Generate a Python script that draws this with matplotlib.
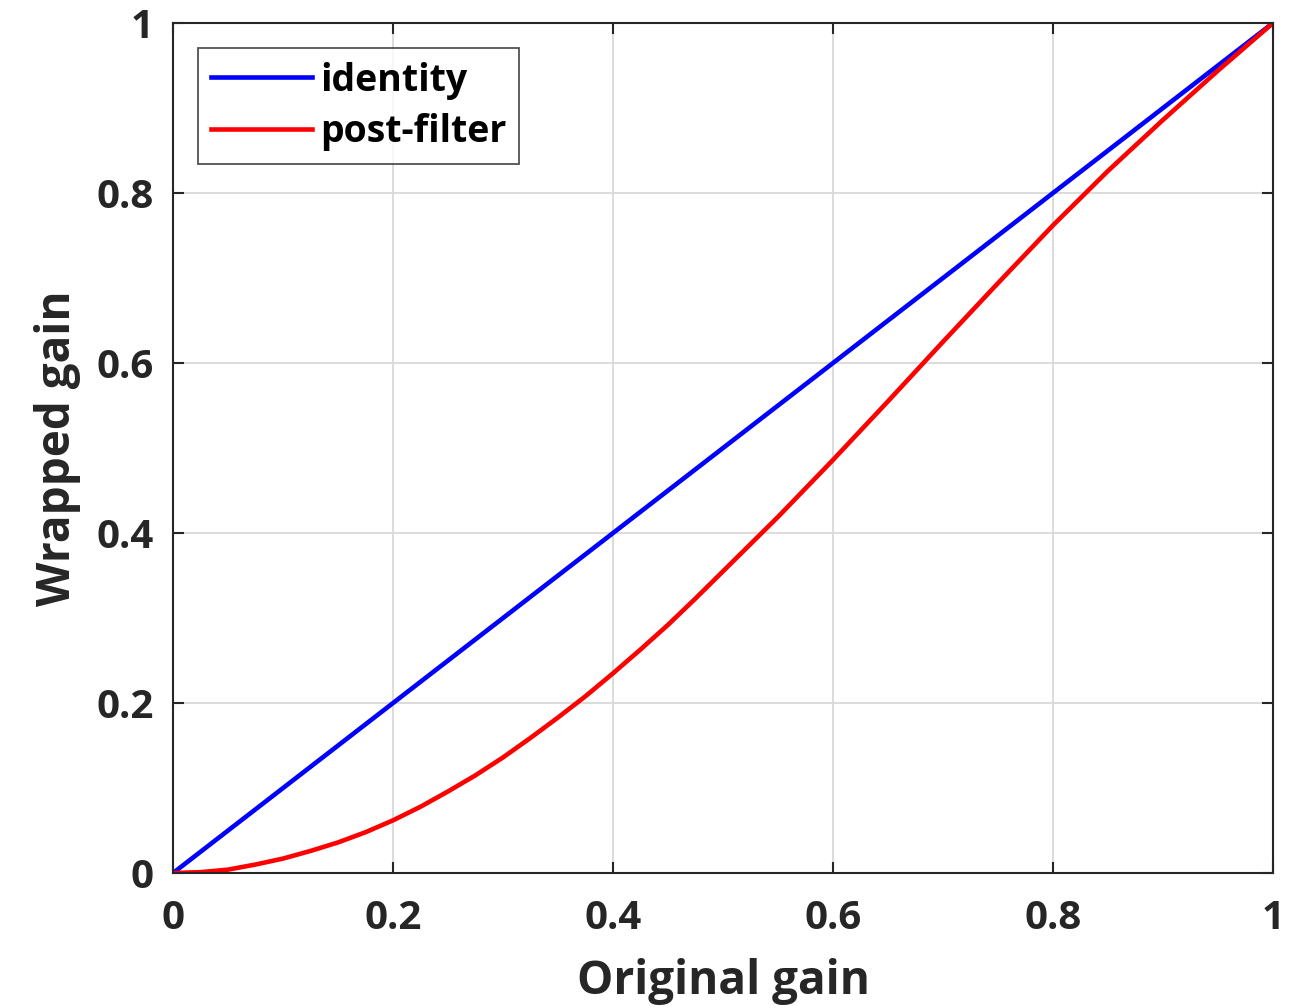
import numpy as np
import matplotlib
matplotlib.use("Agg")
import matplotlib.pyplot as plt

plt.rcParams['font.family'] = ['Open Sans', 'DejaVu Sans']
plt.rcParams['font.weight'] = 'bold'

# исходные данные
x_identity = [0.0, 1.0]
identity = [0.0, 1.0]
x_post = [0.0, 0.025, 0.05, 0.075, 0.1, 0.125, 0.15, 0.175, 0.2, 0.225, 0.25,
          0.275, 0.3, 0.325, 0.35, 0.375, 0.4, 0.425, 0.45, 0.475, 0.5,
          0.55, 0.6, 0.65, 0.7, 0.75, 0.8, 0.85, 0.9, 0.95, 1.0]
post_filter = [0.0, 0.001, 0.004, 0.010, 0.017, 0.026, 0.036, 0.048, 0.062, 0.078, 0.096,
               0.115, 0.136, 0.159, 0.183, 0.208, 0.235, 0.263, 0.292, 0.323, 0.355,
               0.419, 0.486, 0.555, 0.625, 0.694, 0.762, 0.826, 0.886, 0.944, 1.0]

ticks = [0, 0.2, 0.4, 0.6, 0.8, 1]
tick_labels = ['0', '0.2', '0.4', '0.6', '0.8', '1']

fig = plt.figure(figsize=(13.14, 10.08), dpi=100)
ax = fig.add_axes([0.1317, 0.1339, 0.8371, 0.8433])

ax.plot(x_identity, identity, color='#0000ff', lw=3.3, label='identity')
ax.plot(x_post, post_filter, color='#ff0000', lw=3.3, label='post-filter')

ax.set_xlim(0, 1)
ax.set_ylim(0, 1)
ax.set_xticks(ticks)
ax.set_xticklabels(tick_labels)
ax.set_yticks(ticks)
ax.set_yticklabels(tick_labels)
ax.grid(True, color='#d9d9d9', lw=1.3)
ax.set_axisbelow(True)
ax.tick_params(direction='in', length=8, width=1.5, colors='#262626',
               labelsize=29, top=True, right=True)
ax.tick_params(axis='x', pad=19)
ax.tick_params(axis='y', pad=14)
for s in ax.spines.values():
    s.set_color('#262626')
    s.set_linewidth(1.5)

ax.set_xlabel('Original gain', fontsize=33, fontweight='bold', color='#262626', labelpad=14)
ax.set_ylabel('Wrapped gain', fontsize=33, fontweight='bold', color='#262626', labelpad=11)

leg = ax.legend(loc='upper left', bbox_to_anchor=(0.0227, 0.97), fontsize=27,
                frameon=True, fancybox=False, edgecolor='#262626',
                handlelength=2.7, handletextpad=0.2, borderpad=0.35,
                labelspacing=0.36, borderaxespad=0)
leg.get_frame().set_linewidth(1.3)
for t in leg.get_texts():
    t.set_fontweight('bold')

fig.savefig('out.png', dpi=100)
